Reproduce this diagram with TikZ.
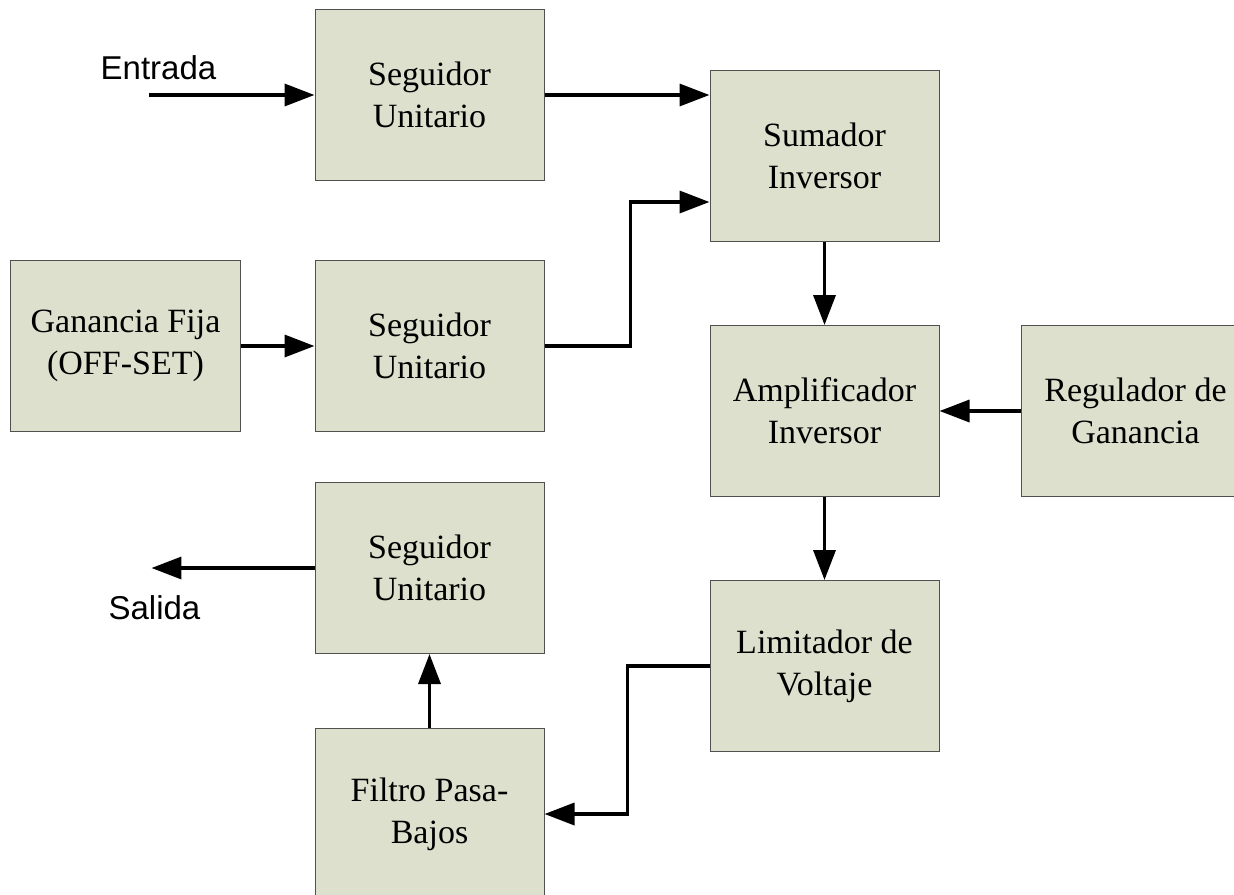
\documentclass[tikz,border=0pt]{standalone}
\usepackage{fontspec}
\setmainfont{Liberation Serif}
\newfontfamily\arialfont{Liberation Sans}
\usetikzlibrary{positioning,arrows.meta}
\definecolor{fondo}{RGB}{221,224,204}
\definecolor{borde}{RGB}{80,80,80}
\tikzset{bloque/.style={rectangle,draw=borde,fill=fondo,line width=0.5pt,minimum width=114.5pt,minimum height=85.5pt,align=center,font=\fontsize{17}{21}\selectfont},
	 flecha/.style={line width=1.75pt,-{Triangle[length=15pt,width=11pt]}},
	 etiqueta/.style={font=\arialfont\fontsize{16.5}{19}\selectfont,inner sep=0pt},
	 node distance = 40pt
	 }

\begin{document}
\begin{tikzpicture}% diagrama de bloques
        \useasboundingbox (-214.75pt,47.5pt) rectangle (402.25pt,-399.5pt);
        \node[bloque] (seg1) {Seguidor\\Unitario};
        \node[bloque] (sum) [right=82.5pt of seg1, yshift=-30.5pt] {Sumador\\Inversor};
        \node[bloque] (amp) [below=41.5pt of sum] {Amplificador\\Inversor};
        \node[bloque] (lim) [below=41.5pt of amp] {Limitador de\\Voltaje};
        \node[bloque] (reg) [right=40.5pt of amp] {Regulador de\\Ganancia};
        \node[bloque] (seg2) [below=39.5pt of seg1] {Seguidor\\Unitario};
        \node[bloque] (gan) [left=37pt of seg2] {Ganancia Fija\\(OFF-SET)};
        \node[bloque] (seg3) [below=25pt of seg2] {Seguidor\\Unitario};
        \node[bloque] (fil) [below=37pt of seg3] {Filtro Pasa-\\Bajos};
        \coordinate[left=82.5pt of seg1.west] (ent);
        \coordinate[left=81.5pt of seg3.west] (sal);
        \node[etiqueta, anchor=base] (lent) at ([xshift=4.5pt, yshift=8pt]ent) {Entrada};
        \node[etiqueta, anchor=base] (lsal) at ([xshift=1.5pt, yshift=-25.5pt]sal) {Salida};
        \draw[flecha] (ent) to (seg1);
        \draw[flecha] (seg1) to (seg1 -| sum.west);
        \draw[flecha] (gan) to (seg2);
        \draw[flecha] (seg2.east) -- ++(43pt,0) |- ([yshift=-23pt]sum.west);
        \draw[flecha] (sum) to (amp);
        \draw[flecha] (reg) to (amp);
        \draw[flecha] (amp) to (lim);
        \draw[flecha] (lim.west) -- ++(-41pt,0) |- (fil.east);
        \draw[flecha] (fil) to (seg3);
        \draw[flecha] (seg3) to (sal);
     \end{tikzpicture}
\end{document}
